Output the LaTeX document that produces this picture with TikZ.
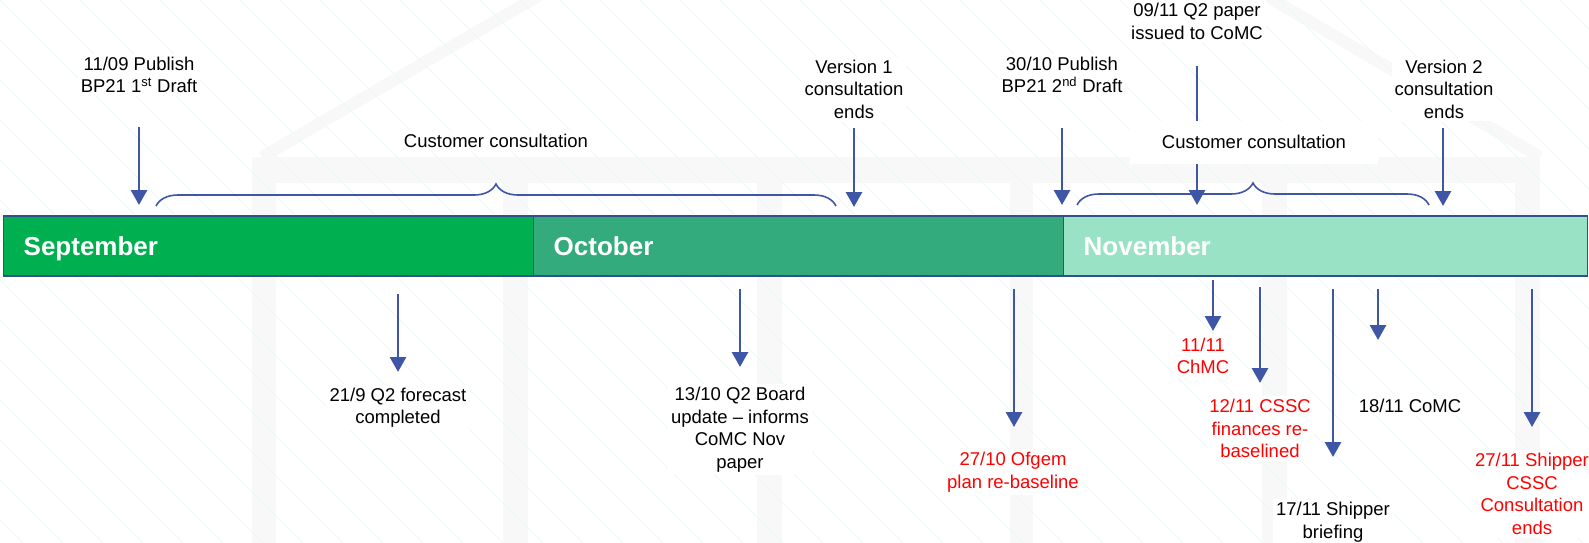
\documentclass[tikz,border=0pt]{standalone}
\usepackage{fontspec}
\setmainfont{Liberation Sans}
\usetikzlibrary{arrows.meta,decorations.pathreplacing}
\definecolor{arrblue}{HTML}{3F55A5}
\definecolor{sepgreen}{HTML}{00B050}
\definecolor{octgreen}{HTML}{33AB7C}
\definecolor{novgreen}{HTML}{99E2C5}
\definecolor{barline}{HTML}{2F4F8F}
\definecolor{wmgray}{HTML}{F8F8F8}
\definecolor{hatchc}{HTML}{EEF8F8}
\definecolor{redtxt}{HTML}{FF0000}
\begin{document}
\begin{tikzpicture}[x=1pt,y=-1pt,
  lbl/.style={font=\fontsize{18.5}{22.5}\selectfont, align=center, fill=white, inner sep=3pt, text=black},
  redlbl/.style={lbl, text=redtxt},
  arr/.style={draw=arrblue, line width=2.9pt, -{Triangle[width=16pt,length=15pt]}},
  brc/.style={draw=arrblue, line width=1.6pt, decorate, decoration={brace,amplitude=22pt}},
  month/.style={draw=barline, line width=1.4pt, minimum height=60pt, inner xsep=20pt, inner ysep=0pt, text height=18.6pt, text depth=0pt, align=left, font=\fontsize{26}{30}\selectfont\bfseries, text=white, anchor=west},
  wm/.style={fill=wmgray, draw=none},
  pane/.style={fill=white, draw=none}
]
\useasboundingbox (0,0) rectangle (1589,543);
% ---- faint watermark ----
\begin{scope}
\clip (0,0) rectangle (1589,543);
\fill[wm] (252,157) rectangle (1540,543);
\fill[pane] (276,183) rectangle (503,543);
\fill[pane] (528,183) rectangle (757,543);
\fill[pane] (782,183) rectangle (1010,543);
\fill[pane] (1033,183) rectangle (1262,543);
\fill[pane] (1287,183) rectangle (1515,543);
\draw[wmgray, line width=12pt] (262,157) -- (540,-5);
\draw[wmgray, line width=12pt] (1540,157) -- (1265,-5);
\foreach \i in {-600,-560,...,1600} \draw[hatchc, line width=1pt] (\i,0) -- ++(543,543);
\end{scope}
% ---- month bar ----
\node[month, fill=sepgreen, text width=490pt] (sep) at (3,246) {September};
\node[month, fill=octgreen, text width=490pt] (oct) at (533,246) {October};
\node[month, fill=novgreen, text width=484pt] (nov) at (1063,246) {November};
% ---- coordinates for arrows ----
\coordinate (a1s) at (139,127);  \coordinate (a1e) at (139,205);
\coordinate (a2s) at (854,128);  \coordinate (a2e) at (854,207);
\coordinate (a3s) at (1062,128); \coordinate (a3e) at (1062,205);
\coordinate (a4s) at (1197,66);  \coordinate (a4e) at (1197,205);
\coordinate (a5s) at (1443,128); \coordinate (a5e) at (1443,206);
\coordinate (a6s) at (398,294);  \coordinate (a6e) at (398,372);
\coordinate (a7s) at (740,289);  \coordinate (a7e) at (740,367);
\coordinate (a8s) at (1014,289); \coordinate (a8e) at (1014,427);
\coordinate (a9s) at (1213,280); \coordinate (a9e) at (1213,331);
\coordinate (a10s) at (1260,287); \coordinate (a10e) at (1260,383);
\coordinate (a11s) at (1333,289); \coordinate (a11e) at (1333,457);
\coordinate (a12s) at (1378,289); \coordinate (a12e) at (1378,340);
\coordinate (a13s) at (1532,289); \coordinate (a13e) at (1532,427);
\coordinate (br1s) at (156,206); \coordinate (br1e) at (836,206);
\coordinate (br2s) at (1077,205); \coordinate (br2e) at (1429,205);
% arrow passing behind the second consultation label
\draw[arr] (a4s) -- (a4e);
% ---- labels ----
\node[lbl] (t1) at (139,75) {11/09 Publish\\BP21 1\textsuperscript{st} Draft};
\node[lbl] (cc1) at (496,141) {Customer consultation};
\node[lbl] (t2) at (854,89) {Version 1\\consultation\\ends};
\node[lbl] (t3) at (1062,75) {30/10 Publish\\BP21 2\textsuperscript{nd} Draft};
\node[lbl] (t4) at (1197,21.5) {09/11 Q2 paper\\issued to CoMC};
\node[lbl, minimum width=248pt, minimum height=43pt] (cc2) at (1254,142) {Customer consultation};
\node[lbl] (t5) at (1444,89) {Version 2\\consultation\\ends};
\node[lbl] (b1) at (398,407.5) {21/9 Q2 forecast\\completed};
\node[lbl] (b2) at (740,429.5) {13/10 Q2 Board\\update – informs\\CoMC Nov\\paper};
\node[redlbl] (b3) at (1013,472) {27/10 Ofgem\\plan re-baseline};
\node[redlbl] (b4) at (1203,356) {11/11\\ChMC};
\node[redlbl] (b5) at (1260,428.5) {12/11 CSSC\\finances re-\\baselined};
\node[lbl] (b6) at (1333,522) {17/11 Shipper\\briefing};
\node[lbl] (b7) at (1410,406) {18/11 CoMC};
\node[redlbl] (b8) at (1532,494) {27/11 Shipper\\CSSC\\Consultation\\ends};
% ---- braces ----
\draw[brc] (br1s) -- (br1e);
\draw[brc] (br2s) -- (br2e);
% ---- arrows ----
\draw[arr] (a1s) -- (a1e);
\draw[arr] (a2s) -- (a2e);
\draw[arr] (a3s) -- (a3e);
\draw[arr] (a5s) -- (a5e);
\draw[arr] (a6s) -- (a6e);
\draw[arr] (a7s) -- (a7e);
\draw[arr] (a8s) -- (a8e);
\draw[arr] (a9s) -- (a9e);
\draw[arr] (a10s) -- (a10e);
\draw[arr] (a11s) -- (a11e);
\draw[arr] (a12s) -- (a12e);
\draw[arr] (a13s) -- (a13e);
\end{tikzpicture}
\end{document}
